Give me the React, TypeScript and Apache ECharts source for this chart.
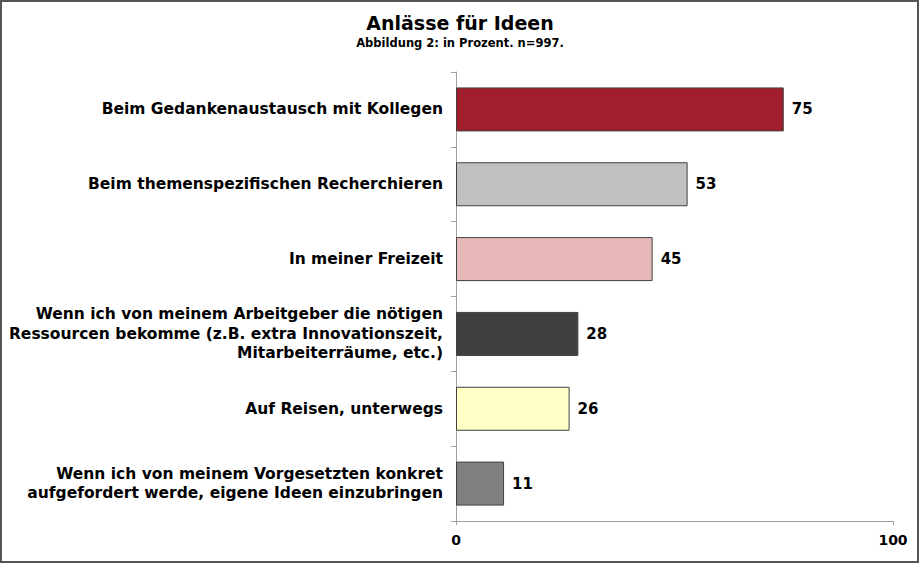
import React, { useEffect, useRef } from "react";
import * as echarts from "echarts";

const categories = [
  "Beim Gedankenaustausch mit Kollegen",
  "Beim themenspezifischen Recherchieren",
  "In meiner Freizeit",
  "Wenn ich von meinem Arbeitgeber die nötigen\nRessourcen bekomme (z.B. extra Innovationszeit,\nMitarbeiterräume, etc.)",
  "Auf Reisen, unterwegs",
  "Wenn ich von meinem Vorgesetzten konkret\naufgefordert werde, eigene Ideen einzubringen",
];
const values = [75, 53, 45, 28, 26, 11];
const barColors = ["#A11F2D", "#C0C0C0", "#E6B9B8", "#404040", "#FFFFC6", "#808080"];
const xTicks = [0, 100];

export default function App() {
  const ref = useRef<HTMLDivElement>(null);
  useEffect(() => {
    document.body.style.margin = "0";
    const chart = echarts.init(ref.current!, null, { renderer: "svg" });
    const font = "DejaVu Sans, sans-serif";
    chart.setOption({
      animation: false,
      backgroundColor: "#ffffff",
      title: {
        text: "Anlässe für Ideen",
        subtext: "Abbildung 2: in Prozent. n=997.",
        left: "center",
        top: 8,
        itemGap: 5,
        textStyle: { fontFamily: font, fontSize: 19, fontWeight: "bold", color: "#000" },
        subtextStyle: { fontFamily: font, fontSize: 11.5, fontWeight: "bold", color: "#000" },
      },
      graphic: [
        {
          type: "rect",
          shape: { x: 1, y: 1, width: 917, height: 561 },
          style: { fill: "none", stroke: "#555", lineWidth: 2 },
          silent: true,
        },
      ],
      grid: { left: 456, right: 27, top: 72, bottom: 43, containLabel: false },
      xAxis: {
        type: "value",
        min: xTicks[0],
        max: xTicks[xTicks.length - 1],
        interval: 100,
        axisLine: { show: true, lineStyle: { color: "#A0A0A0", width: 1 } },
        axisTick: { show: true, length: 4, lineStyle: { color: "#A0A0A0" } },
        splitLine: { show: false },
        axisLabel: {
          fontFamily: font,
          fontSize: 14,
          fontWeight: "bold",
          color: "#000",
          margin: 12,
        },
      },
      yAxis: {
        type: "category",
        inverse: true,
        data: categories,
        axisLine: { show: true, lineStyle: { color: "#A0A0A0", width: 1 } },
        axisTick: { show: true, length: 5, lineStyle: { color: "#A0A0A0" } },
        axisLabel: {
          fontFamily: font,
          fontSize: 15.5,
          fontWeight: "bold",
          color: "#000",
          margin: 13,
          lineHeight: 19.5,
          align: "right",
        },
      },
      series: [
        {
          type: "bar",
          barWidth: 44,
          data: values.map((v, i) => ({
            value: v,
            itemStyle: { color: barColors[i], borderColor: "#404040", borderWidth: 1 },
          })),
          label: {
            show: true,
            position: "right",
            distance: 8,
            fontFamily: font,
            fontSize: 15,
            fontWeight: "bold",
            color: "#000",
          },
        },
      ],
    });
    return () => chart.dispose();
  }, []);
  return <div ref={ref} style={{ width: 920, height: 564 }} />;
}
